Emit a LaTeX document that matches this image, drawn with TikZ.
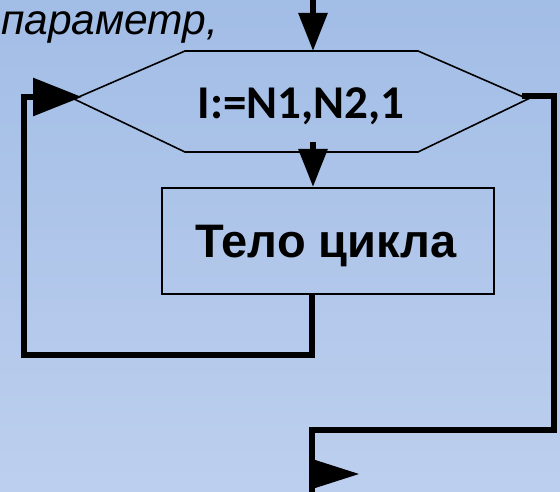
\documentclass[tikz,border=0pt]{standalone}
\usepackage{fontspec}
\setmainfont{Liberation Sans}
\newfontfamily\calibfont{Carlito}
\usetikzlibrary{arrows.meta}

\definecolor{bgtop}{RGB}{162,189,230}
\definecolor{bgbottom}{RGB}{189,207,238}

\tikzset{
  flowline/.style={line width=6pt, line join=miter},
  thinframe/.style={draw=black, line width=1.6pt},
  bigtip/.style={-{Triangle[length=38pt, width=28pt]}},
  sidetip/.style={-{Triangle[length=49pt, width=37pt]}},
}

\begin{document}
\begin{tikzpicture}[x=1pt, y=-1pt]
  % page and background
  \useasboundingbox (0,0) rectangle (560,492);
  \shade[top color=bgtop, bottom color=bgbottom] (0,0) rectangle (560,492);

  % caption fragment
  \node[anchor=base west, inner sep=0pt, font=\fontsize{42.5}{46}\selectfont\itshape]
    (caption) at (1,35) {параметр,};

  % loop header (hexagon)
  \coordinate (hTL) at (185,51);
  \coordinate (hTR) at (418,51);
  \coordinate (hR)  at (528,99);
  \coordinate (hBR) at (418,152);
  \coordinate (hBL) at (185,152);
  \coordinate (hL)  at (74,99);
  \draw[thinframe, line join=miter] (hTL) -- (hTR) -- (hR) -- (hBR) -- (hBL) -- (hL) -- cycle;
  \node[anchor=base, inner sep=0pt, font=\calibfont\bfseries\fontsize{47}{50}\selectfont]
    (hex) at (301,119) {I:=N1,N2,1};

  % loop body
  \node[thinframe, minimum width=332pt, minimum height=106pt, inner sep=0pt,
        anchor=north west] (body) at (161,187) {};
  \node[anchor=base, inner sep=0pt, font=\bfseries\fontsize{47}{51}\selectfont]
    (bodytext) at (326,258) {Тело цикла};

  % connector points
  \coordinate (entry)    at (313,0);
  \coordinate (hexin)    at (313,51);
  \coordinate (hexout)   at (313,142);
  \coordinate (bodyin)   at (313,187);
  \coordinate (bodyout)  at (312,293);
  \coordinate (backtip)  at (82,97);
  \coordinate (exitfrom) at (522,96);
  \coordinate (exitend)  at (312,495);

  % entry and flow into the body
  \draw[flowline, bigtip] (entry) -- (hexin);
  \draw[flowline, bigtip] (hexout) -- (bodyin);

  % return from the body back to the header
  \draw[flowline, sidetip] (bodyout) -- (312,355) -- (24,355) -- (24,97) -- (backtip);

  % loop exit
  \draw[flowline] (exitfrom) -- (554,96) -- (554,430) -- (312,430) -- (exitend);
  \fill (309,458) -- (359,474) -- (309,490) -- cycle;
\end{tikzpicture}
\end{document}
